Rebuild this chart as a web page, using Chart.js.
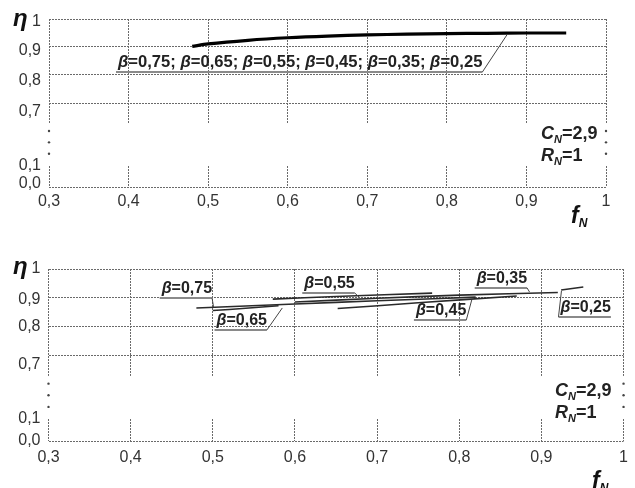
<!DOCTYPE html>
<html>
<head>
<meta charset="utf-8">
<script src="https://cdn.jsdelivr.net/npm/chart.js@4.4.1/dist/chart.umd.min.js"></script>
<style>
html, body { margin: 0; padding: 0; background: #fff; }
#wrap { position: relative; width: 635px; height: 488px; }
.box { position: absolute; left: 0; width: 635px; height: 244px; }
</style>
</head>
<body>
<div id="wrap">
  <div class="box" style="top:0"><canvas id="chart-top" width="635" height="244"></canvas></div>
  <div class="box" style="top:244px"><canvas id="chart-bottom" width="635" height="244"></canvas></div>
</div>
<script>
// Axis ticks
const xTicks = [0.3, 0.4, 0.5, 0.6, 0.7, 0.8, 0.9, 1.0];
const xTickLabels = ['0,3', '0,4', '0,5', '0,6', '0,7', '0,8', '0,9', '1'];
const yTickLabels = ['1', '0,9', '0,8', '0,7', '0,1', '0,0'];
const yGridValues = [0.4, 0.7, 0.8, 0.9, 1.0]; // 0.4 on the broken axis = η 0,0

// Top chart: all β curves coincide
const topBetas = ['0,75', '0,65', '0,55', '0,45', '0,35', '0,25'];
const topF = [0.48, 0.5, 0.55, 0.6, 0.65, 0.7, 0.75, 0.8, 0.85, 0.9, 0.95];
const topEta = [0.902, 0.911, 0.924, 0.933, 0.939, 0.943, 0.946, 0.948, 0.949, 0.950, 0.950];

// Bottom chart: one segment per β
const bottomBetas = ['0,75', '0,65', '0,55', '0,45', '0,35', '0,25'];
const f075 = [0.48, 0.6, 0.7, 0.82];
const eta075 = [0.864, 0.878, 0.889, 0.902];
const f065 = [0.5, 0.54, 0.58];
const eta065 = [0.855, 0.863, 0.872];
const f055 = [0.573, 0.65, 0.767];
const eta055 = [0.895, 0.904, 0.916];
const f045 = [0.652, 0.75, 0.87];
const eta045 = [0.862, 0.882, 0.906];
const f035 = [0.6, 0.7, 0.8, 0.92];
const eta035 = [0.885, 0.898, 0.909, 0.918];
const f025 = [0.924, 0.951];
const eta025 = [0.927, 0.937];

const FONT = '"Liberation Sans", Arial, sans-serif';
const GRID = '#6a6a6a';

function pts(f, eta) {
    return f.map((x, i) => ({ x: x, y: eta[i] }));
}

// draws pieces of text with different fonts, returns width
function richText(ctx, parts, x, y) {
    let cx = x;
    parts.forEach(p => {
        ctx.font = p[1];
        ctx.fillText(p[0], cx, y + (p[2] || 0));
        cx += ctx.measureText(p[0]).width;
    });
    return cx - x;
}

function betaParts(list, size) {
    const parts = [];
    list.forEach((b, i) => {
        parts.push(['β', 'italic bold ' + size + 'px ' + FONT]);
        parts.push(['=' + b + (i < list.length - 1 ? '; ' : ''), 'bold ' + size + 'px ' + FONT]);
    });
    return parts;
}

function drawNote(chart, note) {
    const { ctx, scales: { x, y } } = chart;
    const px = x.getPixelForValue(note.f);
    const py = y.getPixelForValue(note.eta);
    const parts = betaParts(note.betas, note.size || 16);
    ctx.fillStyle = '#222';
    ctx.textBaseline = 'alphabetic';
    ctx.textAlign = 'left';
    const w = richText(ctx, parts, px + 2, py - 5);
    ctx.strokeStyle = '#8a8a8a';
    ctx.lineWidth = 2;
    ctx.beginPath();
    ctx.moveTo(px, py);
    ctx.lineTo(px + w + 2, py);
    ctx.stroke();
    const sx = note.side === 'left' ? px : px + w + 2;
    ctx.strokeStyle = '#444';
    ctx.lineWidth = 1;
    ctx.beginPath();
    ctx.moveTo(sx, py);
    ctx.lineTo(x.getPixelForValue(note.tf), y.getPixelForValue(note.teta));
    ctx.stroke();
}

function makePlugin(setup) {
    return {
        id: 'decor',
        beforeDatasetsDraw(chart) {
            const { ctx, chartArea: a, scales: { y } } = chart;
            const y1 = y.getPixelForValue(0.627);
            const y2 = y.getPixelForValue(0.477);
            ctx.save();
            ctx.fillStyle = '#fff';
            ctx.fillRect(a.left - 2, y1, a.width + 4, y2 - y1);
            ctx.fillStyle = '#444';
            [0.18, 0.45, 0.72].forEach(k => {
                const yy = y1 + (y2 - y1) * k;
                [a.left, a.right].forEach(xx => {
                    ctx.beginPath();
                    ctx.arc(xx, yy, 1.2, 0, Math.PI * 2);
                    ctx.fill();
                });
            });
            ctx.restore();
        },
        afterDraw(chart) {
            const { ctx, chartArea: a } = chart;
            ctx.save();
            setup.notes.forEach(n => drawNote(chart, n));
            ctx.fillStyle = '#111';
            ctx.textAlign = 'left';
            ctx.textBaseline = 'alphabetic';
            // η label
            ctx.font = 'italic bold 24px ' + FONT;
            ctx.fillText('η', 13, a.top + setup.etaDy);
            // f_N label
            richText(ctx, [['f', 'italic bold 23px ' + FONT], ['N', 'italic bold 12px ' + FONT, 4]],
                setup.fx, a.bottom + setup.fDy);
            // parameters
            ctx.fillStyle = '#222';
            richText(ctx, [['C', 'italic bold 18px ' + FONT], ['N', 'italic bold 11px ' + FONT, 4],
                ['=2,9', 'bold 18px ' + FONT]], setup.cx, setup.cy);
            richText(ctx, [['R', 'italic bold 18px ' + FONT], ['N', 'italic bold 11px ' + FONT, 4],
                ['=1', 'bold 18px ' + FONT]], setup.cx, setup.cy + 22);
            ctx.restore();
        }
    };
}

function makeChart(id, datasets, setup) {
    const ctx = document.getElementById(id).getContext('2d');
    return new Chart(ctx, {
        type: 'line',
        data: { datasets: datasets },
        options: {
            responsive: false,
            animation: false,
            devicePixelRatio: 1,
            layout: { padding: setup.padding },
            plugins: { legend: { display: false }, tooltip: { enabled: false } },
            elements: { point: { radius: 0 } },
            scales: {
                x: {
                    type: 'linear',
                    min: 0.3,
                    max: 1.0,
                    afterBuildTicks: s => { s.ticks = xTicks.map(v => ({ value: v })); },
                    afterFit: s => { s.height = 30; },
                    grid: { color: GRID, lineWidth: 1, drawTicks: false },
                    border: { display: false, dash: [2, 1] },
                    ticks: {
                        autoSkip: false,
                        maxRotation: 0,
                        padding: setup.xPad,
                        color: '#333',
                        font: { family: FONT, size: 16 },
                        callback: (v, i) => xTickLabels[i]
                    }
                },
                y: {
                    type: 'linear',
                    position: 'left',
                    min: 0.4,
                    max: 1.0,
                    afterBuildTicks: s => { s.ticks = setup.yLabelPos.map(v => ({ value: v })); },
                    afterFit: s => { s.width = setup.yWidth; },
                    grid: { display: false, drawTicks: false },
                    border: { display: false },
                    ticks: {
                        autoSkip: false,
                        padding: 8,
                        color: '#333',
                        font: { family: FONT, size: 16 },
                        callback: (v, i) => yTickLabels[i]
                    }
                },
                yGrid: {
                    type: 'linear',
                    position: 'left',
                    min: 0.4,
                    max: 1.0,
                    afterBuildTicks: s => { s.ticks = yGridValues.map(v => ({ value: v })); },
                    afterFit: s => { s.width = 0; },
                    grid: { color: GRID, lineWidth: 1, drawTicks: false },
                    border: { display: false, dash: [2, 1] },
                    ticks: { display: false }
                }
            }
        },
        plugins: [makePlugin(setup)]
    });
}

// Top chart
makeChart('chart-top', [{
    data: pts(topF, topEta),
    borderColor: '#000',
    borderWidth: 3.2,
    tension: 0.3
}], {
    padding: { left: 0, right: 29, top: 19, bottom: 27 },
    yWidth: 49,
    xPad: 5,
    yLabelPos: [0.989, 0.886, 0.779, 0.671, 0.475, 0.411],
    notes: [{ betas: topBetas, size: 16.6, f: 0.3842, eta: 0.8107, tf: 0.8754, teta: 0.9429 }],
    etaDy: 7,
    fx: 571,
    fDy: 36,
    cx: 541,
    cy: 139
});

// Bottom chart
const bottomSeries = [[f075, eta075], [f065, eta065], [f055, eta055], [f045, eta045], [f035, eta035], [f025, eta025]];
makeChart('chart-bottom', bottomSeries.map(s => ({
    data: pts(s[0], s[1]),
    borderColor: '#2a2a2a',
    borderWidth: 1.6,
    tension: 0.2
})), {
    padding: { left: 0, right: 10, top: 25, bottom: 17 },
    yWidth: 48.5,
    xPad: 7,
    yLabelPos: [1.0, 0.895, 0.798, 0.666, 0.477, 0.4],
    notes: [
        { betas: [bottomBetas[0]], f: 0.4353, eta: 0.8990, tf: 0.5009, teta: 0.8676 },
        { betas: [bottomBetas[1]], f: 0.5021, eta: 0.7875, tf: 0.5846, teta: 0.8641 },
        { betas: [bottomBetas[2]], f: 0.6089, eta: 0.9164, tf: 0.678, teta: 0.9024 },
        { betas: [bottomBetas[3]], f: 0.7448, eta: 0.8223, tf: 0.8152, teta: 0.892 },
        { betas: [bottomBetas[4]], f: 0.8188, eta: 0.9338, tf: 0.8855, teta: 0.9199 },
        { betas: [bottomBetas[5]], f: 0.9208, eta: 0.8328, tf: 0.9244, teta: 0.9233, side: 'left' }
    ],
    etaDy: 5,
    fx: 592,
    fDy: 47,
    cx: 555,
    cy: 396 - 244
});
</script>
</body>
</html>
